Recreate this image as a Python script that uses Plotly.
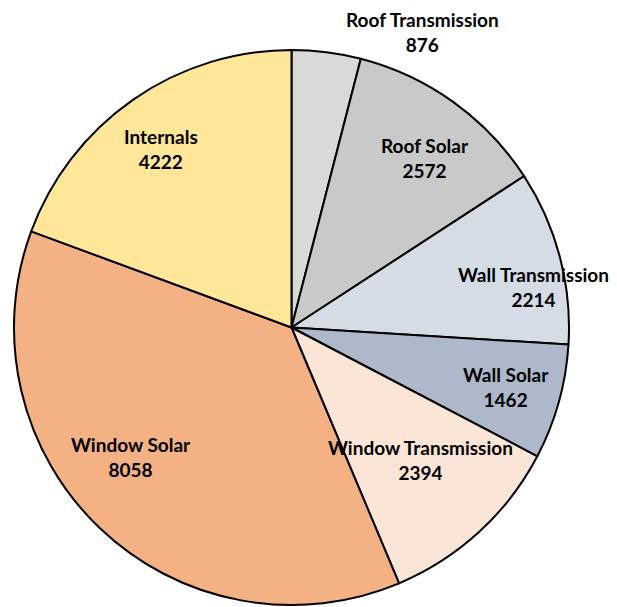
import plotly.graph_objects as go

# page body has an 8px margin, so the figure is drawn 8px in from the window corner
OFF = 8
W, H = 617 - OFF, 607 - OFF
ML, MR, MT, MB = 14 - OFF, 48, 50 - OFF, 2

categories = ["Roof Transmission", "Roof Solar", "Wall Transmission", "Wall Solar",
              "Window Transmission", "Window Solar", "Internals"]
values = [876, 2572, 2214, 1462, 2394, 8058, 4222]
colors = ["#D9D9D9", "#C9C9C9", "#D6DCE5", "#ADB9CA", "#FBE5D6", "#F4B183", "#FFE699"]

# label centres in window pixels
label_px = [(422, 32), (425, 158), (533, 287), (506, 387), (420, 460), (131, 457), (161, 149)]


def to_paper(px, py):
    pw = W - ML - MR
    ph = H - MT - MB
    return (px - OFF - ML) / pw, 1 - (py - OFF - MT) / ph


fig = go.Figure(go.Pie(
    labels=categories,
    values=values,
    sort=False,
    direction="clockwise",
    rotation=0,
    marker=dict(colors=colors, line=dict(color="black", width=2)),
    textinfo="none",
    hoverinfo="label+value",
    showlegend=False,
))

for name, val, (px, py) in zip(categories, values, label_px):
    x, y = to_paper(px, py)
    fig.add_annotation(
        x=x, y=y, xref="paper", yref="paper",
        xanchor="center", yanchor="middle",
        text=f"<b>{name}<br>{val}</b>",
        showarrow=False, align="center",
        font=dict(family="Lato", size=19, color="black"),
    )

fig.update_layout(
    width=W, height=H,
    margin=dict(l=ML, r=MR, t=MT, b=MB),
    paper_bgcolor="white",
    plot_bgcolor="white",
)

fig.write_html("out.html")
